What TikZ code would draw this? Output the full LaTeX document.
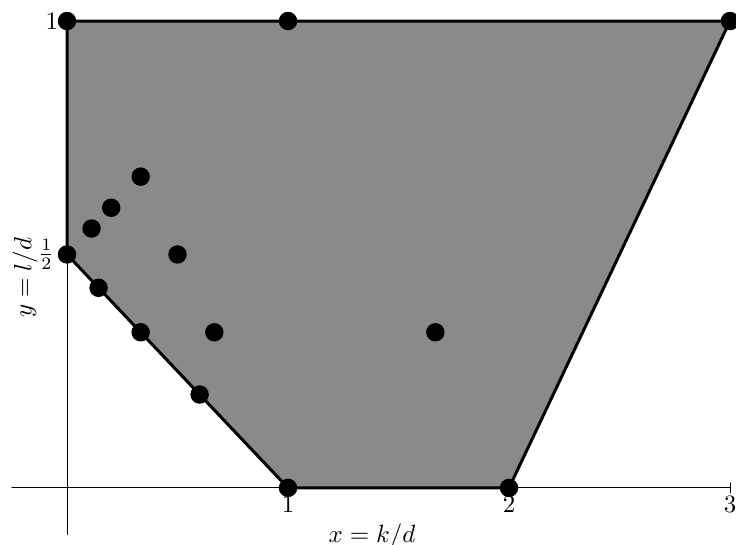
\documentclass[tikz,border=0pt]{standalone}
\begin{document}
\begin{tikzpicture}[x=3.11cm, y=6.57cm, line cap=round, line join=round,
  latpt/.style={circle, fill=black, inner sep=0pt, minimum size=7.4pt}]
  \useasboundingbox (-0.3032,-0.1221) rectangle (3.0271,1.0450);

  % Axes
  \coordinate (xs) at (-0.25, 0);
  \coordinate (xe) at (3, 0);
  \coordinate (ys) at (0, -0.1);
  \coordinate (ye) at (0, 1);
  \draw[thin] (xs) -- (xe);
  \draw[thin] (ys) -- (ye);
  \draw[thin] (xe) ++(0, 2pt) -- ++(0, -4pt);

  % Polygon with corners at (0,1/2), (1,0), (2,0), (3,1), (0,1)
  \coordinate (A) at (0, 0.5);
  \coordinate (B) at (1, 0);
  \coordinate (C) at (2, 0);
  \coordinate (D) at (3, 1);
  \coordinate (E) at (0, 1);
  \filldraw[fill=black!46, very thick] (A) -- (B) -- (C) -- (D) -- (E) -- cycle;

  % Lattice points
  \foreach \p [count=\i] in {(0,1), (1,1), (3,1), (0,1/2), (1,0), (2,0),
      (1/3,2/3), (1/5,3/5), (1/9,5/9), (1/2,1/2), (1/7,3/7), (1/3,1/3),
      (2/3,1/3), (5/3,1/3), (3/5,1/5)}
    \node[latpt] (p\i) at \p {};

  % Tick labels
  \node[below] (lx1) at (B) {$1$};
  \node[below] (lx2) at (C) {$2$};
  \node[below] (lx3) at (xe) {$3$};
  \node[left] (ly1) at (E) {$1$};
  \node[left=1.5pt] (lyh) at (A) {$\frac{1}{2}$};

  % Axis labels
  \node (xlab) at (1.38, -0.104) {$x = k/d$};
  \node[rotate=90] (ylab) at (-0.19, 0.45) {$y = l/d$};
\end{tikzpicture}
\end{document}
